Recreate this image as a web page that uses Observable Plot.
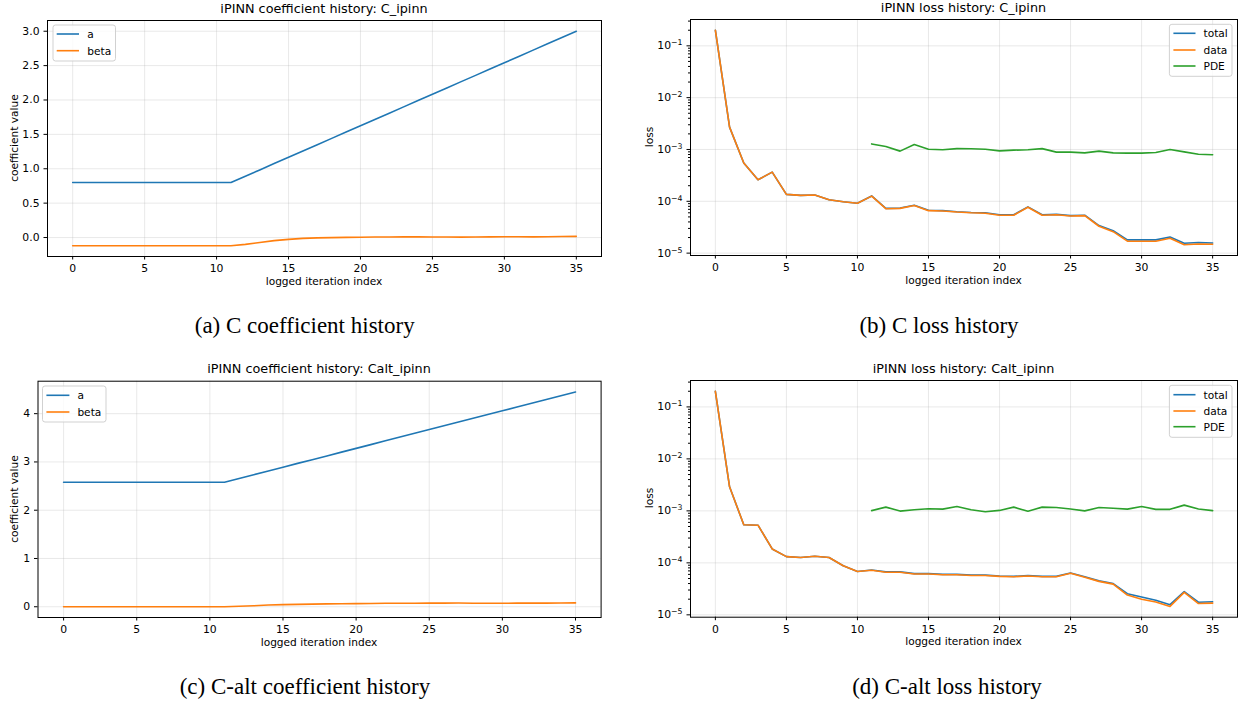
<!DOCTYPE html>
<html><head><meta charset="utf-8">
<script src="https://cdn.jsdelivr.net/npm/d3@7"></script>
<script src="https://cdn.jsdelivr.net/npm/@observablehq/plot@0.6"></script>
<style>
html,body{margin:0;padding:0;background:#fff;}
#fig{position:relative;width:1250px;height:703px;overflow:hidden;background:#fff;}
.panel{position:absolute;}
#overlay{position:absolute;left:0;top:0;pointer-events:none;}
</style></head><body><div id="fig"></div>
<script>
// ---------- data ----------
const iterations = [0,1,2,3,4,5,6,7,8,9,10,11,12,13,14,15,16,17,18,19,20,21,22,23,24,25,26,27,28,29,30,31,32,33,34,35];
const iterTicks = [0,5,10,15,20,25,30,35];
const coefTicksC = [0.0,0.5,1.0,1.5,2.0,2.5,3.0];
const coefTicksCalt = [0,1,2,3,4];
const lossTicks = [1e-5,1e-4,1e-3,1e-2,1e-1];

const coefC_a = [0.8,0.8,0.8,0.8,0.8,0.8,0.8,0.8,0.8,0.8,0.8,0.8,
  0.892,0.983,1.075,1.167,1.258,1.350,1.442,1.533,1.625,1.717,1.808,1.900,1.992,2.083,2.175,2.267,2.358,2.450,2.542,2.633,2.725,2.817,2.908,3.000];
const coefC_beta = [-0.12,-0.12,-0.12,-0.12,-0.12,-0.12,-0.12,-0.12,-0.12,-0.12,-0.12,-0.12,
  -0.10,-0.072,-0.045,-0.027,-0.013,-0.005,-0.002,0.002,0.005,0.007,0.008,0.009,0.010,0.008,0.007,0.006,0.007,0.009,0.012,0.011,0.010,0.012,0.015,0.017];

const coefCalt_a = [2.58,2.58,2.58,2.58,2.58,2.58,2.58,2.58,2.58,2.58,2.58,2.58,
  2.658,2.736,2.814,2.892,2.970,3.047,3.125,3.203,3.281,3.359,3.437,3.515,3.593,3.671,3.748,3.826,3.904,3.982,4.060,4.138,4.216,4.294,4.372,4.450];
const coefCalt_beta = [0.0,0.0,0.0,0.0,0.0,0.0,0.0,0.0,0.0,0.0,0.0,0.0,
  0.01,0.02,0.035,0.045,0.05,0.055,0.06,0.063,0.065,0.068,0.072,0.073,0.074,0.075,0.076,0.077,0.074,0.072,0.073,0.075,0.076,0.076,0.078,0.08];

const lossC_data = [0.2,2.7e-3,5.5e-4,2.6e-4,3.66e-4,1.36e-4,1.30e-4,1.32e-4,1.07e-4,9.8e-5,9.2e-5,
  1.26e-4,7.2e-5,7.3e-5,8.3e-5,6.6e-5,6.5e-5,6.2e-5,6.0e-5,5.9e-5,5.4e-5,5.4e-5,7.7e-5,5.4e-5,5.5e-5,5.2e-5,5.3e-5,3.3e-5,2.6e-5,1.7e-5,1.7e-5,1.7e-5,1.94e-5,1.45e-5,1.5e-5,1.48e-5];
const lossC_total = [0.2,2.7e-3,5.5e-4,2.6e-4,3.66e-4,1.36e-4,1.30e-4,1.32e-4,1.07e-4,9.8e-5,9.2e-5,
  1.27e-4,7.3e-5,7.4e-5,8.4e-5,6.7e-5,6.6e-5,6.3e-5,6.1e-5,6.0e-5,5.5e-5,5.5e-5,7.8e-5,5.5e-5,5.6e-5,5.3e-5,5.4e-5,3.4e-5,2.7e-5,1.8e-5,1.8e-5,1.8e-5,2.05e-5,1.55e-5,1.6e-5,1.57e-5];
const lossC_pde = [null,null,null,null,null,null,null,null,null,null,null,
  1.28e-3,1.14e-3,9.3e-4,1.25e-3,1.01e-3,9.9e-4,1.04e-3,1.03e-3,1.01e-3,9.4e-4,9.7e-4,9.9e-4,1.04e-3,8.9e-4,8.9e-4,8.6e-4,9.3e-4,8.6e-4,8.5e-4,8.5e-4,8.75e-4,1.0e-3,9.0e-4,8.1e-4,7.9e-4];

const lossCalt_data = [0.2,2.9e-3,5.4e-4,5.3e-4,1.85e-4,1.32e-4,1.27e-4,1.34e-4,1.27e-4,8.8e-5,6.8e-5,
  7.2e-5,6.6e-5,6.6e-5,6.1e-5,6.1e-5,5.9e-5,5.9e-5,5.7e-5,5.7e-5,5.5e-5,5.4e-5,5.6e-5,5.4e-5,5.4e-5,6.3e-5,5.3e-5,4.4e-5,3.9e-5,2.4e-5,2.0e-5,1.76e-5,1.45e-5,2.7e-5,1.65e-5,1.68e-5];
const lossCalt_total = [0.2,2.9e-3,5.4e-4,5.3e-4,1.85e-4,1.32e-4,1.27e-4,1.34e-4,1.27e-4,8.8e-5,6.8e-5,
  7.3e-5,6.7e-5,6.7e-5,6.2e-5,6.2e-5,6.0e-5,6.0e-5,5.8e-5,5.8e-5,5.6e-5,5.5e-5,5.7e-5,5.5e-5,5.5e-5,6.4e-5,5.4e-5,4.5e-5,4.0e-5,2.55e-5,2.2e-5,1.9e-5,1.57e-5,2.8e-5,1.75e-5,1.78e-5];
const lossCalt_pde = [null,null,null,null,null,null,null,null,null,null,null,
  1.01e-3,1.18e-3,9.9e-4,1.05e-3,1.1e-3,1.08e-3,1.21e-3,1.05e-3,9.6e-4,1.02e-3,1.18e-3,9.8e-4,1.18e-3,1.16e-3,1.09e-3,1.0e-3,1.16e-3,1.12e-3,1.08e-3,1.21e-3,1.07e-3,1.07e-3,1.29e-3,1.09e-3,1.01e-3];

const colors = {a: "#1f77b4", beta: "#ff7f0e", total: "#1f77b4", data: "#ff7f0e", PDE: "#2ca02c"};

// ---------- layout ----------
const FONT = "DejaVu Sans, Verdana, sans-serif";
const fig = document.getElementById("fig");

function panel(cfg) {
  const {left, top, width, height, frame: [fx0, fy0, fx1, fy1], series, log, yTicks, yFormat} = cfg;
  const mL = fx0 - left, mR = left + width - fx1, mT = fy0 - top, mB = top + height - fy1;
  const [xa, xb] = d3.extent(iterations);
  const xp = (xb - xa) * 0.05;
  const all = series.flatMap(s => s.values.filter(v => v != null));
  let yDomain;
  if (log) {
    const lo = Math.log10(d3.min(all)), hi = Math.log10(d3.max(all)), p = (hi - lo) * 0.05;
    yDomain = [10 ** (lo - p), 10 ** (hi + p)];
  } else {
    const lo = d3.min(all), hi = d3.max(all), p = (hi - lo) * 0.05;
    yDomain = [lo - p, hi + p];
  }
  const gridStyle = {stroke: "#b0b0b0", strokeOpacity: 0.35, strokeWidth: 0.8};
  const marks = [
    Plot.gridX(iterTicks, gridStyle),
    Plot.gridY(yTicks, gridStyle)
  ];
  for (const s of series) {
    const rows = iterations.map((it, k) => ({it, v: s.values[k]}));
    marks.push(Plot.line(rows, {x: "it", y: "v", stroke: s.color, strokeWidth: 1.6,
      filter: d => d.v != null}));
  }
  marks.push(Plot.axisX(iterTicks, {tickSize: 3.5, tickPadding: 4.5, label: null, tickFormat: d => String(d), fontSize: 10.8}));
  marks.push(Plot.axisY(yTicks, {tickSize: 3.5, tickPadding: 4.5, label: null, tickFormat: yFormat, fontSize: 10.8}));
  if (log) {
    const minor = [];
    for (let e = -6; e <= 0; e++) for (let m = 2; m <= 9; m++) {
      const v = m * 10 ** e;
      if (v > yDomain[0] && v < yDomain[1]) minor.push(v);
    }
    marks.push(Plot.axisY(minor, {tickSize: 2, label: null, tickFormat: () => ""}));
  }
  marks.push(Plot.frame({stroke: "#000", strokeWidth: 1}));
  const svg = Plot.plot({
    width, height,
    marginLeft: mL, marginRight: mR, marginTop: mT, marginBottom: mB,
    x: {domain: [xa - xp, xb + xp]},
    y: log ? {type: "log", domain: yDomain} : {domain: yDomain},
    style: {fontFamily: FONT, fontSize: "10.8px", background: "transparent", color: "#000", overflow: "visible"},
    marks
  });
  if (log) {
    d3.select(svg).selectAll("text").each(function () {
      const t = this.textContent;
      const m = /^10\^(-?\d+)$/.exec(t);
      if (m) {
        const sel = d3.select(this);
        sel.text(null);
        sel.append("tspan").text("10");
        sel.append("tspan").attr("dy", "-0.5em").attr("font-size", "0.72em").text(m[1].replace("-", "\u2212"));
      }
    });
  }
  svg.classList.add("panel");
  svg.style.left = left + "px";
  svg.style.top = top + "px";
  fig.appendChild(svg);
}

const logFmt = d => "10^" + Math.round(Math.log10(d));

panel({left: 0, top: 0, width: 620, height: 300, frame: [47, 20, 601, 256],
  series: [{values: coefC_a, color: colors.a}, {values: coefC_beta, color: colors.beta}],
  log: false, yTicks: coefTicksC, yFormat: d => d.toFixed(1)});
panel({left: 620, top: 0, width: 630, height: 300, frame: [690, 19, 1237, 255],
  series: [{values: lossC_total, color: colors.total}, {values: lossC_data, color: colors.data}, {values: lossC_pde, color: colors.PDE}],
  log: true, yTicks: lossTicks, yFormat: logFmt});
panel({left: 0, top: 355, width: 620, height: 300, frame: [37.5, 380.7, 600.6, 617],
  series: [{values: coefCalt_a, color: colors.a}, {values: coefCalt_beta, color: colors.beta}],
  log: false, yTicks: coefTicksCalt, yFormat: d => String(d)});
panel({left: 620, top: 355, width: 630, height: 300, frame: [690, 380, 1237, 616.7],
  series: [{values: lossCalt_total, color: colors.total}, {values: lossCalt_data, color: colors.data}, {values: lossCalt_pde, color: colors.PDE}],
  log: true, yTicks: lossTicks, yFormat: logFmt});

// ---------- text overlay: titles, axis labels, legends, captions ----------
const ov = d3.select(fig).append("svg").attr("id", "overlay").attr("width", 1250).attr("height", 703);
function txt(x, y, s, size, opts = {}) {
  const t = ov.append("text").attr("x", x).attr("y", y).attr("font-size", size)
    .attr("font-family", opts.family || FONT).attr("text-anchor", opts.anchor || "middle")
    .attr("fill", "#000").text(s);
  if (opts.rotate) t.attr("x", 0).attr("y", 0).attr("transform", `translate(${x},${y}) rotate(-90)`);
  if (opts.dy) t.attr("dy", opts.dy);
  return t;
}
const titles = [
  {x: 324, y: 12.5, s: "iPINN coefficient history: C_ipinn"},
  {x: 963.5, y: 12, s: "iPINN loss history: C_ipinn"},
  {x: 319, y: 373, s: "iPINN coefficient history: Calt_ipinn"},
  {x: 963.5, y: 372.5, s: "iPINN loss history: Calt_ipinn"}
];
titles.forEach(t => txt(t.x, t.y, t.s, 12.8));
[[324, 256], [963.5, 255], [319, 617], [963.5, 616.7]].forEach(([cx, fb]) => txt(cx, fb + 28.5, "logged iteration index", 10.6));
txt(17.7, 138, "coefficient value", 10.6, {rotate: true});
txt(653, 137, "loss", 10.6, {rotate: true});
txt(17.7, 499, "coefficient value", 10.6, {rotate: true});
txt(653, 498, "loss", 10.6, {rotate: true});

function legend(bx, by, bw, bh, lx0, lx1, tx, entries) {
  ov.append("rect").attr("x", bx).attr("y", by).attr("width", bw).attr("height", bh)
    .attr("rx", 2.5).attr("fill", "#fff").attr("fill-opacity", 0.8).attr("stroke", "#cccccc").attr("stroke-width", 0.9);
  entries.forEach(e => {
    ov.append("line").attr("x1", lx0).attr("x2", lx1).attr("y1", e.y).attr("y2", e.y)
      .attr("stroke", e.color).attr("stroke-width", 1.6);
    txt(tx, e.y, e.label, 10.6, {anchor: "start", dy: "0.36em"});
  });
}
legend(53, 25, 62.5, 36, 56.7, 79, 87.3, [{label: "a", color: colors.a, y: 34}, {label: "beta", color: colors.beta, y: 50.7}]);
legend(1169.4, 24.3, 62.6, 52, 1173.4, 1195.5, 1203.5, [{label: "total", color: colors.total, y: 33.3}, {label: "data", color: colors.data, y: 50}, {label: "PDE", color: colors.PDE, y: 66}]);
legend(42.5, 386, 63.5, 36, 46.4, 69.4, 77.4, [{label: "a", color: colors.a, y: 395.3}, {label: "beta", color: colors.beta, y: 412}]);
legend(1169.4, 385.3, 62.6, 52, 1173.4, 1195.5, 1203.5, [{label: "total", color: colors.total, y: 394.7}, {label: "data", color: colors.data, y: 411}, {label: "PDE", color: colors.PDE, y: 426.7}]);

const SERIF = "Liberation Serif, Times New Roman, serif";
txt(304.7, 333.3, "(a) C coefficient history", 23, {family: SERIF});
txt(939, 333, "(b) C loss history", 23, {family: SERIF});
txt(305, 694, "(c) C-alt coefficient history", 23, {family: SERIF});
txt(947, 693.5, "(d) C-alt loss history", 23, {family: SERIF});
</script>
</body></html>
